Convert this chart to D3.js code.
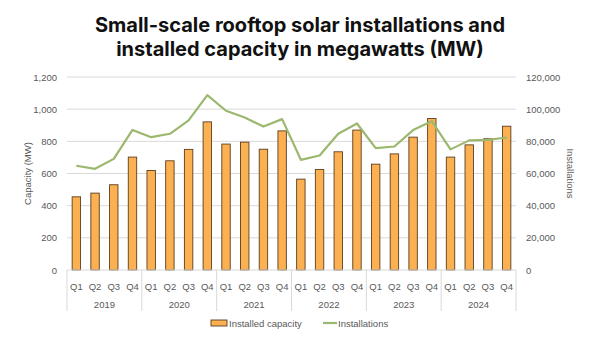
<!DOCTYPE html>
<html>
<head>
  <meta charset="utf-8">
  <title>Small-scale rooftop solar</title>
  <script src="https://d3js.org/d3.v7.min.js"></script>
  <style>
    body { margin: 0; background: #fff; }
    text { font-family: "Liberation Sans", Arial, sans-serif; }
  </style>
</head>
<body>
  <svg width="600" height="338"></svg>
  <script>
    // data
    var years = ["2019", "2020", "2021", "2022", "2023", "2024"];
    var quarters = ["Q1", "Q2", "Q3", "Q4"];
    var capacity = [455, 478, 530, 702, 619, 679, 750, 921, 783, 795, 751, 865,
                    565, 625, 735, 870, 658, 722, 826, 942, 702, 778, 816, 894];
    var installations = [64800, 62900, 69100, 87100, 82600, 84700, 93000, 108700, 99000, 94800, 89200, 93800,
                         68500, 71200, 84700, 91100, 75800, 76800, 87000, 92500, 75000, 80600, 80900, 82400];
    var leftTicks = [0, 200, 400, 600, 800, 1000, 1200];
    var rightTicks = [0, 20000, 40000, 60000, 80000, 100000, 120000];

    var keys = [];
    years.forEach(function (yr) { quarters.forEach(function (q) { keys.push(yr + "-" + q); }); });

    var svg = d3.select("svg");
    var pLeft = 67, pRight = 516, pTop = 77, pBottom = 270;

    var x = d3.scaleBand().domain(keys).range([pLeft, pRight]).paddingInner(0.55).paddingOuter(0.275);
    var xc = d3.scaleBand().domain(keys).range([pLeft, pRight]);
    var y = d3.scaleLinear().domain([0, 1200]).range([pBottom, pTop]);
    var y2 = d3.scaleLinear().domain([0, 120000]).range([pBottom, pTop]);

    // title
    svg.append("text").attr("x", 300).attr("y", 32).attr("text-anchor", "middle")
      .style("font-family", "Inter, 'Open Sans', sans-serif").style("font-weight", 700)
      .style("font-size", "20px").attr("fill", "#111")
      .text("Small-scale rooftop solar installations and");
    svg.append("text").attr("x", 300).attr("y", 56).attr("text-anchor", "middle")
      .style("font-family", "Inter, 'Open Sans', sans-serif").style("font-weight", 700)
      .style("font-size", "20px").attr("fill", "#111")
      .text("installed capacity in megawatts (MW)");

    // gridlines
    svg.append("g").selectAll("line").data(leftTicks.slice(1)).enter().append("line")
      .attr("x1", pLeft).attr("x2", pRight)
      .attr("y1", function (d) { return y(d); }).attr("y2", function (d) { return y(d); })
      .attr("stroke", "#d9d9d9").attr("stroke-width", 1);

    // left axis
    var la = svg.append("g").attr("transform", "translate(" + (pLeft - 10) + ",0)")
      .call(d3.axisLeft(y).tickValues(leftTicks).tickSize(0).tickPadding(0).tickFormat(d3.format(",")));
    la.select(".domain").remove();
    la.selectAll("text").attr("fill", "#595959").style("font-size", "9.5px");

    // right axis
    var ra = svg.append("g").attr("transform", "translate(" + (pRight + 10) + ",0)")
      .call(d3.axisRight(y2).tickValues(rightTicks).tickSize(0).tickPadding(0).tickFormat(d3.format(",")));
    ra.select(".domain").remove();
    ra.selectAll("text").attr("fill", "#595959").style("font-size", "9.5px");

    // axis titles
    svg.append("text").attr("transform", "translate(31," + ((pTop + pBottom) / 2) + ") rotate(-90)")
      .attr("text-anchor", "middle").attr("fill", "#595959").style("font-size", "9.5px").text("Capacity (MW)");
    svg.append("text").attr("transform", "translate(567," + ((pTop + pBottom) / 2) + ") rotate(90)")
      .attr("text-anchor", "middle").attr("fill", "#595959").style("font-size", "9.5px").text("Installations");

    // bars
    svg.append("g").selectAll("rect").data(capacity).enter().append("rect")
      .attr("x", function (d, i) { return x(keys[i]); })
      .attr("width", x.bandwidth())
      .attr("y", function (d) { return y(d); })
      .attr("height", function (d) { return pBottom - y(d); })
      .attr("fill", "#fbb152").attr("stroke", "#5c3d1e").attr("stroke-width", 0.9);

    // category axis
    svg.append("line").attr("x1", pLeft).attr("x2", pRight).attr("y1", pBottom).attr("y2", pBottom)
      .attr("stroke", "#d9d9d9");
    svg.append("g").selectAll("line").data(d3.range(years.length + 1)).enter().append("line")
      .attr("x1", function (i) { return pLeft + i * 4 * xc.bandwidth(); })
      .attr("x2", function (i) { return pLeft + i * 4 * xc.bandwidth(); })
      .attr("y1", pBottom).attr("y2", 311)
      .attr("stroke", "#d9d9d9");
    svg.append("g").selectAll("text").data(keys).enter().append("text")
      .attr("x", function (d) { return xc(d) + xc.bandwidth() / 2; })
      .attr("y", 290).attr("text-anchor", "middle")
      .attr("fill", "#595959").style("font-size", "9.5px")
      .text(function (d) { return d.split("-")[1]; });
    svg.append("g").selectAll("text").data(years).enter().append("text")
      .attr("x", function (d, i) { return pLeft + (i + 0.5) * 4 * xc.bandwidth(); })
      .attr("y", 308).attr("text-anchor", "middle")
      .attr("fill", "#595959").style("font-size", "9.5px")
      .text(function (d) { return d; });

    // line
    var line = d3.line()
      .x(function (d, i) { return xc(keys[i]) + xc.bandwidth() / 2; })
      .y(function (d) { return y2(d); });
    svg.append("path").datum(installations)
      .attr("fill", "none").attr("stroke", "#9bb86e").attr("stroke-width", 2.2)
      .attr("stroke-linejoin", "round").attr("d", line);

    // legend
    var lg = svg.append("g");
    lg.append("rect").attr("x", 211).attr("y", 320).attr("width", 16).attr("height", 6)
      .attr("fill", "#fbb152").attr("stroke", "#5c3d1e").attr("stroke-width", 0.9);
    lg.append("text").attr("x", 229).attr("y", 327).attr("fill", "#595959").style("font-size", "9.5px")
      .text("Installed capacity");
    lg.append("line").attr("x1", 323).attr("x2", 337).attr("y1", 323).attr("y2", 323)
      .attr("stroke", "#9bb86e").attr("stroke-width", 2.2);
    lg.append("text").attr("x", 338).attr("y", 327).attr("fill", "#595959").style("font-size", "9.5px")
      .text("Installations");
  </script>
</body>
</html>
